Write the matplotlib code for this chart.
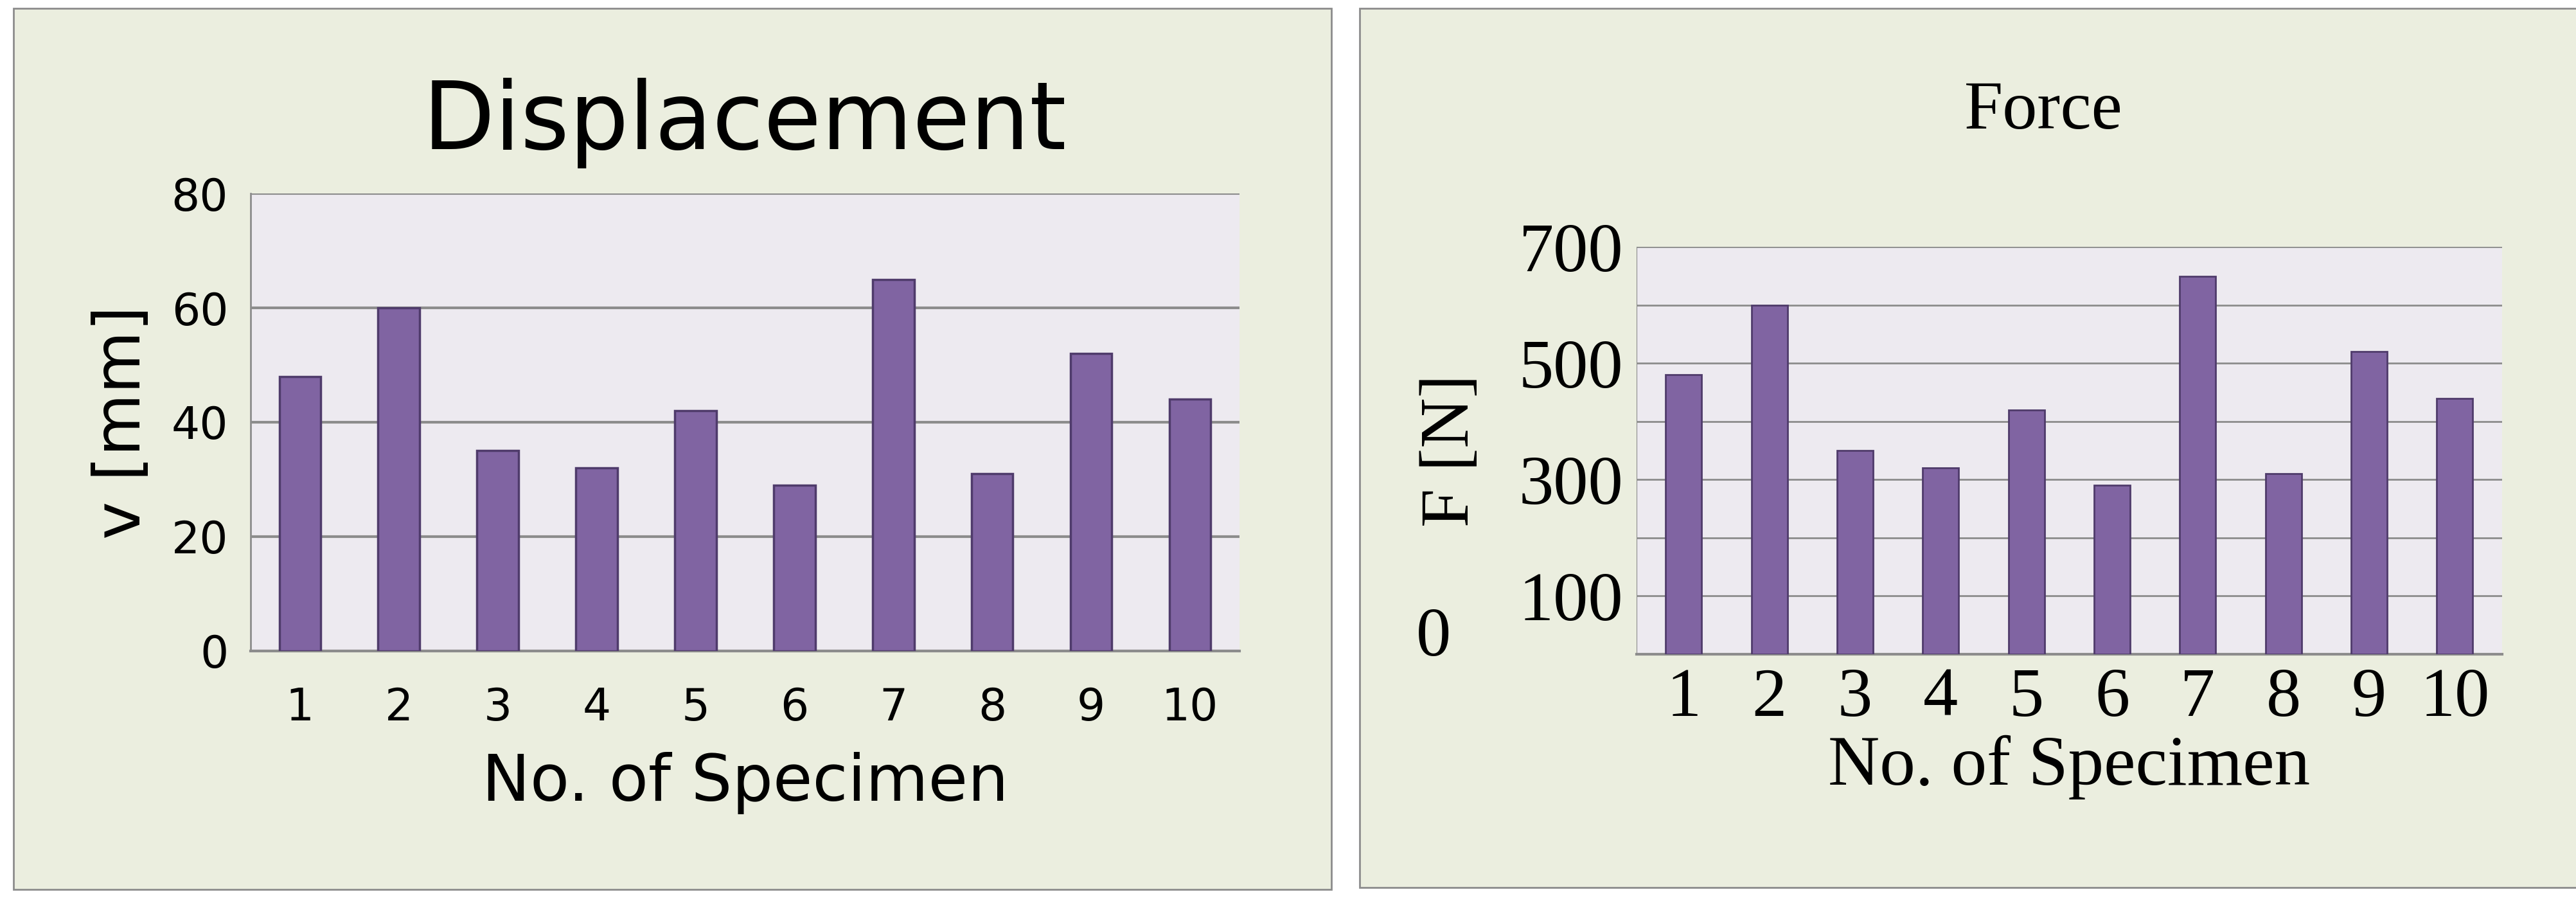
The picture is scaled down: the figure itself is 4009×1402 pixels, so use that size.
import matplotlib.pyplot as plt
from matplotlib.patches import Rectangle

specimens = ["1", "2", "3", "4", "5", "6", "7", "8", "9", "10"]
displacement = [48, 60, 35, 32, 42, 29, 65, 31, 52, 44]
force = [480, 600, 350, 320, 420, 290, 650, 310, 520, 440]

W, H = 1563, 540  # reference layout units
panel_bg = "#EBEEDF"
plot_bg = "#EDEAF0"
bar_col = "#8064A2"
bar_edge = "#4F3B6B"
grid_col = "#8C8C8C"

fig = plt.figure(figsize=(40.09, 14.02), dpi=100)
fig.patch.set_facecolor("white")

def box(x0, y0, x1, y1):
    return [x0 / W, 1 - y1 / H, (x1 - x0) / W, (y1 - y0) / H]

# panel backgrounds (behind the axes)
fig.patches.append(Rectangle((8 / W, 1 - 533 / H), 800 / W, 528 / H, transform=fig.transFigure,
                             facecolor=panel_bg, edgecolor="#8C8C8C", lw=2, zorder=-5))
fig.patches.append(Rectangle((825 / W, 1 - 532 / H), 740 / W, 527 / H, transform=fig.transFigure,
                             facecolor=panel_bg, edgecolor="#8C8C8C", lw=2, zorder=-5))
x = list(range(len(specimens)))

# left chart
ax = fig.add_axes(box(152, 116, 752, 390))
ax.set_facecolor(plot_bg)
ax.bar(x, displacement, width=0.42, color=bar_col, edgecolor=bar_edge, lw=2.5, zorder=3)
ax.set_ylim(0, 80)
ax.set_xlim(-0.5, len(x) - 0.5)
ax.set_yticks([0, 20, 40, 60, 80])
ax.set_xticks(x, specimens)
ax.yaxis.grid(True, color=grid_col, lw=3)
ax.set_axisbelow(True)
for s in ["top", "right"]:
    ax.spines[s].set_visible(False)
ax.spines["left"].set_color(grid_col)
ax.spines["bottom"].set_color(grid_col)
ax.spines["left"].set_linewidth(2)
ax.spines["bottom"].set_linewidth(3)
ax.tick_params(length=0, labelsize=50, pad=40)
ax.tick_params(axis="y", pad=25)
ax.set_ylabel("v [mm]", fontsize=72, labelpad=20)
ax.set_xlabel("No. of Specimen", fontsize=72, labelpad=25)
ax.set_title("Displacement", fontsize=105, pad=50)

# right chart
serif = "Liberation Serif"
ax2 = fig.add_axes(box(993, 148, 1518, 392))
ax2.set_facecolor(plot_bg)
ax2.bar(x, force, width=0.42, color=bar_col, edgecolor=bar_edge, lw=2, zorder=3)
ax2.set_ylim(0, 700)
ax2.set_xlim(-0.55, len(x) - 0.45)
ax2.set_yticks([100, 300, 500, 700], ["100", "300", "500", "700"])
ax2.set_yticks([200, 400, 600], minor=True)
ax2.yaxis.grid(True, which="both", color=grid_col, lw=2)
ax2.set_axisbelow(True)
ax2.set_xticks(x, specimens)
for s in ["top", "right"]:
    ax2.spines[s].set_visible(False)
ax2.spines["left"].set_color(grid_col)
ax2.spines["bottom"].set_color(grid_col)
ax2.spines["bottom"].set_linewidth(3)
ax2.tick_params(which="both", length=0, labelsize=78, pad=15)
for lab in ax2.get_xticklabels() + ax2.get_yticklabels():
    lab.set_fontfamily(serif)
ax2.set_ylabel("F [N]", fontsize=78, family=serif, labelpad=40)
ax2.set_xlabel("No. of Specimen", fontsize=80, family=serif, labelpad=5)
fig.text(870 / W, 1 - 383 / H, "0", fontsize=78, family=serif, ha="center", va="center")
fig.text(1240 / W, 1 - 67 / H, "Force", fontsize=78, family=serif, ha="center", va="center")

fig.savefig("out.png", dpi=100, facecolor=fig.get_facecolor())
